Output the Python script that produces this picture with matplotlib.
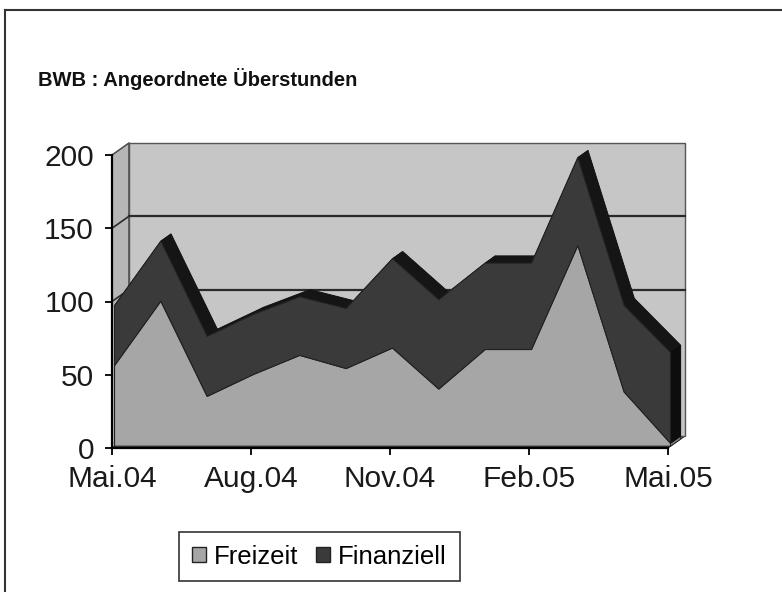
import matplotlib
matplotlib.use('Agg')
import matplotlib.pyplot as plt
from matplotlib.patches import Polygon, Patch
from matplotlib.lines import Line2D

# ---- data ----
months = ['Mai.04', 'Jun.04', 'Jul.04', 'Aug.04', 'Sep.04', 'Okt.04', 'Nov.04',
          'Dez.04', 'Jan.05', 'Feb.05', 'Mär.05', 'Apr.05', 'Mai.05']
freizeit = [55, 99, 34, 49, 62, 53, 67, 39, 66, 66, 137, 37, 2]
finanziell = [41, 41, 41, 41, 40, 41, 61, 61, 59, 59, 60, 59, 62]
tick_idx = [0, 3, 6, 9, 12]
tick_labels = ['Mai.04', 'Aug.04', 'Nov.04', 'Feb.05', 'Mai.05']
yticks = [0, 50, 100, 150, 200]
title = 'BWB : Angeordnete Überstunden'

plt.rcParams['font.family'] = ['Liberation Sans', 'DejaVu Sans']

W, H = 782, 592
fig = plt.figure(figsize=(W / 100, H / 100), dpi=100)

px_per_x = 46.33
px_per_y = 1.465
x0_px, y0_px = 112, 448
XMAX, YMAX = 12.6, 212
ax = fig.add_axes([x0_px / W, (H - y0_px) / H,
                   XMAX * px_per_x / W, YMAX * px_per_y / H])
ax.set_xlim(0, XMAX)
ax.set_ylim(0, YMAX)

n = len(months)
xs = list(range(n))
xe = n - 1
DX = 17 / px_per_x
DY = 12 / px_per_y
fa, fb = 0.15, 0.75  # slab front/back depth fraction

wall_c = '#c6c6c6'
lwall_c = '#b6b6b6'
floor_c = '#6e6e6e'
frei_c = '#a6a6a6'
frei_end = '#858585'
fin_c = '#3a3a3a'
fin_top = '#151515'
edge = '#222222'

# floor
ax.add_patch(Polygon([(0, 0), (xe, 0), (xe + DX, DY), (DX, DY)], closed=True,
                     fc=floor_c, ec=edge, lw=0.8, zorder=1))
# left wall
ax.add_patch(Polygon([(0, 0), (0, 200), (DX, 200 + DY), (DX, DY)], closed=True,
                     fc=lwall_c, ec=edge, lw=0.8, zorder=1))
# back wall
ax.add_patch(Polygon([(DX, DY), (xe + DX, DY), (xe + DX, 200 + DY), (DX, 200 + DY)],
                     closed=True, fc=wall_c, ec='#555555', lw=1.0, zorder=1))
# gridlines on walls (the 50 line is hidden behind the series)
for v in [100, 150]:
    ax.plot([DX, xe + DX], [v + DY, v + DY], color='#2a2a2a', lw=1.6, zorder=1.5)
    ax.plot([0, DX], [v, v + DY], color='#2a2a2a', lw=1.2, zorder=1.5)
ax.plot([0, DX], [200, 200 + DY], color='#555555', lw=1.0, zorder=1.5)

tot = [a + b for a, b in zip(freizeit, finanziell)]

def o(x, y, f):
    return (x + f * DX, y + f * DY)

# back fill behind the slab
back_fill = [o(xs[0], 0, fb)] + [o(x, y, fb) for x, y in zip(xs, tot)] + [o(xe, 0, fb)]
ax.add_patch(Polygon(back_fill, closed=True, fc=fin_top, ec='none', zorder=1.8))

# top surface of upper series
for i in range(n - 1):
    quad = [o(xs[i], tot[i], fa), o(xs[i + 1], tot[i + 1], fa),
            o(xs[i + 1], tot[i + 1], fb), o(xs[i], tot[i], fb)]
    ax.add_patch(Polygon(quad, closed=True, fc=fin_top, ec=fin_top, lw=0.6, zorder=2))

# end faces at right
ax.add_patch(Polygon([o(xe, 0, fa), o(xe, freizeit[-1], fa),
                      o(xe, freizeit[-1], fb), o(xe, 0, fb)], closed=True,
                     fc=frei_end, ec=edge, lw=0.6, zorder=2))
ax.add_patch(Polygon([o(xe, freizeit[-1], fa), o(xe, tot[-1], fa),
                      o(xe, tot[-1], fb), o(xe, freizeit[-1], fb)], closed=True,
                     fc='#0d0d0d', ec='#0d0d0d', lw=0.6, zorder=2))

# front faces
front_f = [o(xs[0], 0, fa)] + [o(x, y, fa) for x, y in zip(xs, freizeit)] + [o(xe, 0, fa)]
ax.add_patch(Polygon(front_f, closed=True, fc=frei_c, ec=edge, lw=0.8, zorder=3))
front_t = [o(x, y, fa) for x, y in zip(xs, freizeit)] + \
          [o(x, y, fa) for x, y in zip(xs[::-1], tot[::-1])]
ax.add_patch(Polygon(front_t, closed=True, fc=fin_c, ec=edge, lw=0.8, zorder=3))

# axes styling
for s in ['top', 'right']:
    ax.spines[s].set_visible(False)
ax.spines['left'].set_bounds(0, 200)
ax.spines['bottom'].set_bounds(0, xe)
for s in ['left', 'bottom']:
    ax.spines[s].set_linewidth(1.6)
    ax.spines[s].set_color('black')
    ax.spines[s].set_zorder(5)
ax.set_facecolor('none')
ax.set_yticks(yticks)
ax.set_yticklabels([str(v) for v in yticks])
ax.set_xticks(tick_idx)
ax.set_xticklabels(tick_labels)
ax.tick_params(axis='both', direction='out', length=5, width=1.3,
               labelsize=21.5, colors='black', labelcolor='#1a1a1a')
ax.tick_params(axis='y', pad=8)
ax.tick_params(axis='x', pad=7)

# title
fig.text(38 / W, 1 - 79 / H, title, fontsize=14.5, fontweight='bold',
         ha='left', va='center', color='#111111')

# legend
handles = [Patch(fc=frei_c, ec='#222222', lw=1.0, label='Freizeit'),
           Patch(fc=fin_c, ec='#222222', lw=1.0, label='Finanziell')]
leg = fig.legend(handles=handles, loc='center',
                 bbox_to_anchor=((182 + 457) / 2 / W, 1 - 556.5 / H),
                 ncol=2, fontsize=18.5, frameon=True, fancybox=False,
                 handlelength=0.55, handleheight=0.55, handletextpad=0.3,
                 columnspacing=0.7, borderpad=0.5, borderaxespad=0)
leg.get_frame().set_edgecolor('black')
leg.get_frame().set_linewidth(1.2)

# outer chart border
fig.add_artist(Line2D([5 / W, 1.0], [1 - 10 / H, 1 - 10 / H], color='#333333',
                      lw=1.5, transform=fig.transFigure))
fig.add_artist(Line2D([5 / W, 5 / W], [1 - 10 / H, 0], color='#333333',
                      lw=1.5, transform=fig.transFigure))

fig.savefig('out.png', dpi=100)
